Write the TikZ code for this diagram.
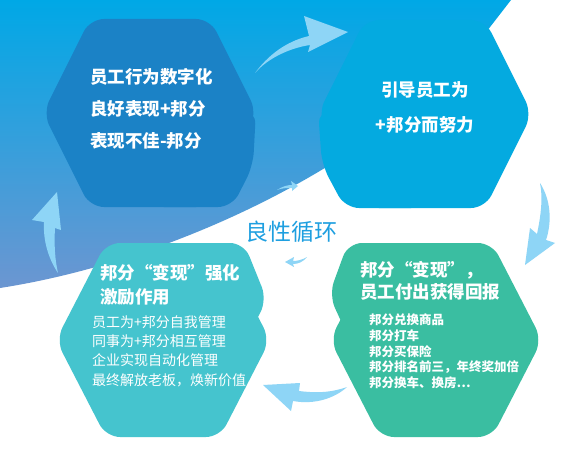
\documentclass[tikz,border=0pt]{standalone}
\usepackage{fontspec}
\newfontfamily\cjk{Noto Sans CJK SC}
\definecolor{bgtop}{HTML}{00A8E6}
\definecolor{bgmid}{HTML}{1CA3DF}
\definecolor{bgbot}{HTML}{6C96D1}
\definecolor{hexA}{HTML}{1B82C6}
\definecolor{hexB}{HTML}{04AAE0}
\definecolor{hexC}{HTML}{45C4CE}
\definecolor{hexD}{HTML}{3ABEA1}
\definecolor{arrowc}{HTML}{8ED5F6}
\definecolor{labelc}{HTML}{1E9FE0}
\begin{document}
\begin{tikzpicture}[x=1pt,y=-1pt,
  hexa/.style={rounded corners=14pt},
  swoosh/.style={fill=arrowc},
  txt/.style={inner sep=0pt,text=white,font=\cjk}]
\useasboundingbox (0,0) rectangle (580,457);
\fill[white] (0,0) rectangle (580,457);
% background
\shade[top color=bgtop, middle color=bgmid, bottom color=bgbot]
  (0,0) -- (511,0) -- (480,40) .. controls (380,160) and (180,260) .. (0,288) -- cycle;
% hexagons (each with a second, offset lobe)
\fill[hexA, hexa] (90,19) -- (210,19) -- (257,113) -- (210,207) -- (90,207) -- (43,113) -- cycle;
\fill[hexA, hexa] (150,110) -- (256,110) -- (253,166) -- (232,207) -- (150,207) -- cycle;
\fill[hexB, hexa] (365,20) -- (485,20) -- (532,114) -- (485,208) -- (365,208) -- (318,114) -- cycle;
\fill[hexB, hexa] (318,110) -- (425,110) -- (425,208) -- (345,208) -- (322,165) -- cycle;
\fill[hexC, hexa] (106,243) -- (220,243) -- (270,340) -- (220,437) -- (106,437) -- (56,340) -- cycle;
\fill[hexC, hexa] (130,243) -- (244,243) -- (267,300) -- (250,332) -- (130,332) -- cycle;
\fill[hexD, hexa] (380,243) -- (492,243) -- (542,340) -- (492,437) -- (380,437) -- (330,340) -- cycle;
\fill[hexD, hexa] (470,243) -- (348,243) -- (329,295) -- (346,332) -- (470,332) -- cycle;
% arrows
\fill[swoosh] (255,73) .. controls (272,50) and (292,40) .. (309,36) -- (304,16) -- (348,32) -- (308,52) -- (310,45) .. controls (290,48) and (268,58) .. (255,73) -- cycle;
\fill[swoosh] (540,183) .. controls (551,200) and (552,222) .. (546,240) -- (555,243) -- (525,265) -- (530,228) -- (537,234) .. controls (541,215) and (543,198) .. (540,183) -- cycle;
\fill[swoosh] (347,387) .. controls (330,393) and (315,393) .. (299,391) -- (300,383) -- (263,385) -- (291,411) -- (293,401) .. controls (315,405) and (335,398) .. (347,387) -- cycle;
\fill[swoosh] (58,273) .. controls (48,258) and (43,240) .. (44,222) -- (32,220) -- (57,192) -- (61,230) -- (55,228) .. controls (54,245) and (55,260) .. (58,273) -- cycle;
\fill[swoosh] (277,190) .. controls (283,186) and (288,185) .. (292,185) -- (291,181) -- (298,186) -- (292,191) -- (292,188) .. controls (287,188) and (282,188) .. (277,190) -- cycle;
\fill[swoosh] (307,257) .. controls (302,260) and (297,261) .. (293,261) -- (294,257) -- (285,262) -- (294,267) -- (293,264) .. controls (298,264) and (303,262) .. (307,257) -- cycle;
% texts
\node[txt, anchor=west, align=left, font=\cjk\bfseries\fontsize{17.5}{32}\selectfont] (t1) at (90,109)
  {员工行为数字化\\良好表现+邦分\\表现不佳-邦分};
\node[txt, align=center, font=\cjk\bfseries\fontsize{17.5}{35}\selectfont] (t2) at (425,107.5)
  {引导员工为\\+邦分而努力};
\node[txt, anchor=west, align=left, font=\cjk\bfseries\fontsize{17.5}{24}\selectfont] (t3a) at (100,285)
  {邦分“变现”强化\\激励作用};
\node[txt, anchor=west, align=left, font=\cjk\fontsize{14}{19.3}\selectfont] (t3b) at (92,351)
  {员工为+邦分自我管理\\同事为+邦分相互管理\\企业实现自动化管理\\最终解放老板，焕新价值};
\node[txt, anchor=west, align=left, font=\cjk\bfseries\fontsize{17.5}{22}\selectfont] (t4a) at (360,281)
  {邦分“变现”，\\员工付出获得回报};
\node[txt, anchor=west, align=left, font=\cjk\bfseries\fontsize{12.5}{15.75}\selectfont] (t4b) at (369,351.5)
  {邦分兑换商品\\邦分打车\\邦分买保险\\邦分排名前三，年终奖加倍\\邦分换车、换房…};
\node[inner sep=0pt, text=labelc, font=\cjk\fontsize{23}{27}\selectfont] (lbl) at (291,232) {良性循环};
\end{tikzpicture}
\end{document}
